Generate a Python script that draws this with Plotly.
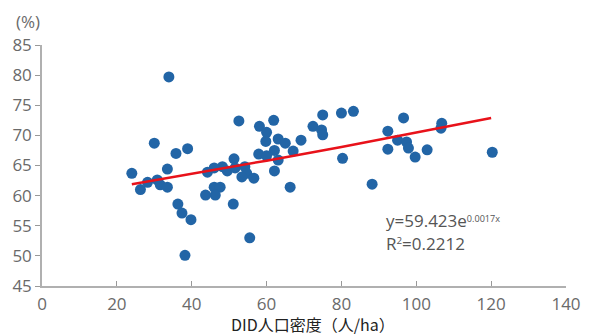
import math
import plotly.graph_objects as go

density = [24.0, 26.3, 28.2, 30.8, 31.6, 33.5, 33.5, 36.3, 37.4, 39.8, 38.2,
           33.9, 30.0, 35.8, 38.9,
           52.6, 61.9, 58.1, 60.0, 59.8, 63.1, 65.0, 69.2, 67.1, 62.1, 57.9, 60.0,
           63.1, 51.3, 48.2, 46.0, 44.2, 49.5, 51.6, 54.2, 54.7, 53.4, 56.6, 62.1,
           46.0, 47.6, 43.7, 46.3, 51.1, 66.3, 55.5, 72.4, 75.0, 74.7, 75.0, 80.0,
           83.2, 80.3, 88.2, 92.4, 96.6, 92.4, 95.0, 97.4, 97.9, 99.7, 102.9,
           106.8, 106.6, 120.3]
rate = [63.7, 61.0, 62.2, 62.6, 61.8, 64.4, 61.4, 58.6, 57.1, 56.0, 50.1,
        79.7, 68.7, 67.0, 67.8,
        72.4, 72.5, 71.5, 70.5, 69.0, 69.4, 68.7, 69.2, 67.4, 67.5, 66.9, 66.6,
        65.9, 66.1, 64.8, 64.6, 63.9, 64.1, 64.6, 64.8, 63.7, 63.1, 62.9, 64.1,
        61.4, 61.4, 60.1, 60.1, 58.6, 61.4, 53.0, 71.5, 73.4, 70.9, 70.1, 73.7,
        74.0, 66.2, 61.9, 70.7, 72.9, 67.7, 69.2, 68.9, 67.9, 66.4, 67.6,
        72.0, 71.2, 67.2]

x_ticks = [0, 20, 40, 60, 80, 100, 120, 140]
y_ticks = [45, 50, 55, 60, 65, 70, 75, 80, 85]

fit_a = 59.423
fit_b = 0.0017
fit_x = [24, 40, 60, 80, 100, 120]
fit_y = [fit_a * math.exp(fit_b * v) for v in fit_x]

fig = go.Figure()
fig.add_trace(go.Scatter(
    x=density, y=rate, mode="markers",
    marker=dict(size=11, color="#2265a6", line=dict(width=0)),
    showlegend=False, hoverinfo="skip"))
fig.add_trace(go.Scatter(
    x=fit_x, y=fit_y, mode="lines",
    line=dict(color="#e8121a", width=2.5),
    showlegend=False, hoverinfo="skip"))

tick_font = dict(family="Open Sans", size=17, color="#6a6a6a")
PW, PH = 534, 241  # plot area in px

fig.update_layout(
    width=593, height=336,
    margin=dict(l=42, r=17, t=45, b=50),
    paper_bgcolor="white", plot_bgcolor="white",
    xaxis=dict(range=[0, 140], tickvals=x_ticks, ticks="inside", ticklen=5,
               tickcolor="#999", showline=True, linecolor="#b0b0b0", linewidth=1.5,
               showgrid=False, zeroline=False, tickfont=tick_font,
               ticklabelstandoff=2),
    yaxis=dict(range=[45, 85], tickvals=y_ticks, ticks="outside", ticklen=5,
               tickcolor="#999", showline=True, linecolor="#b0b0b0", linewidth=1.5,
               showgrid=False, zeroline=False, tickfont=tick_font),
    annotations=[
        dict(text="(%)", xref="paper", yref="paper",
             x=-29 / PW, y=1 + 23 / PH, xanchor="left", yanchor="middle",
             showarrow=False, font=tick_font),
        dict(text="DID人口密度（人/ha）", xref="paper", yref="paper",
             x=(318 - 42) / PW, y=-(324 - 286) / PH, xanchor="center",
             yanchor="middle", showarrow=False, borderpad=0,
             font=dict(family="Noto Sans CJK JP", size=16, color="#222")),
        dict(text="y=59.423e<span style='font-size:13px'><sup>0.0017x</sup></span>",
             xref="x", yref="y",
             x=91.5, y=55.8, xanchor="left", yanchor="middle", showarrow=False,
             font=dict(family="Open Sans", size=17, color="#555")),
        dict(text="R<span style='font-size:14px'><sup>2</sup></span>=0.2212",
             xref="x", yref="y",
             x=91.5, y=52.0, xanchor="left", yanchor="middle", showarrow=False,
             font=dict(family="Open Sans", size=17, color="#555")),
    ],
)

fig.write_html("out.html")
